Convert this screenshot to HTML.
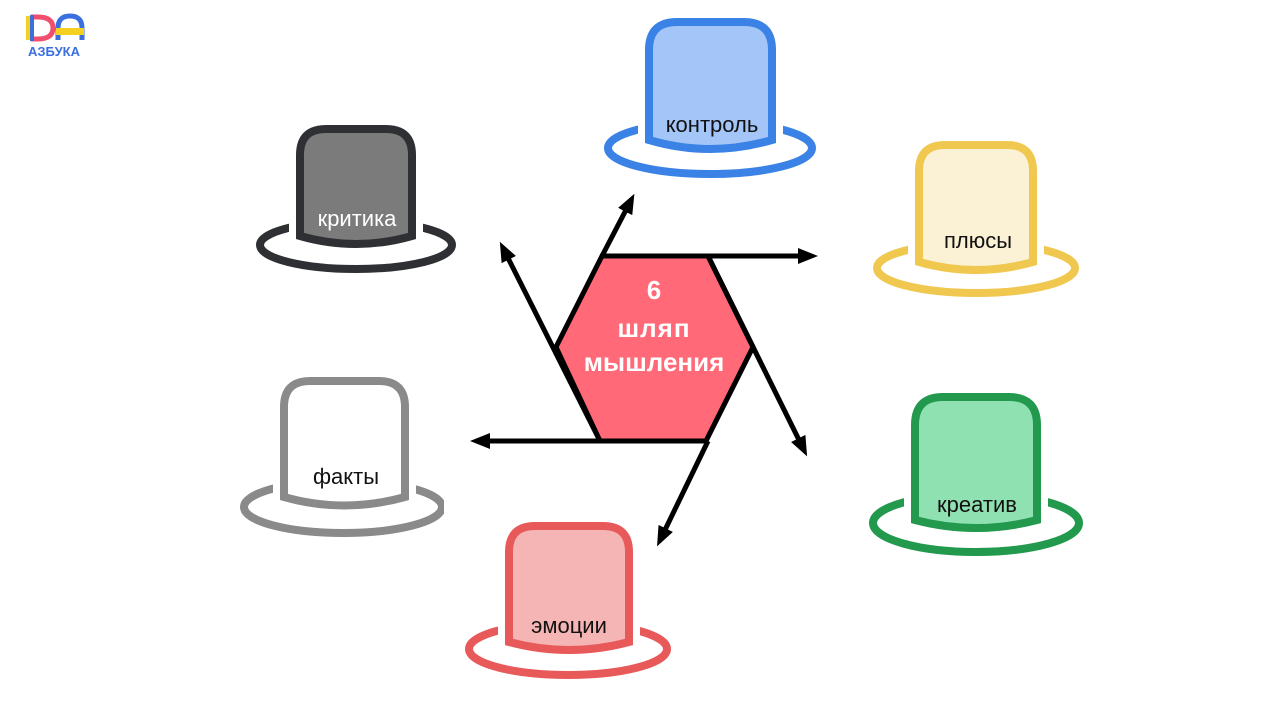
<!DOCTYPE html>
<html><head><meta charset="utf-8"><style>
html,body{margin:0;padding:0;background:#fff;}
svg{display:block;}
text{font-family:"Liberation Sans","DejaVu Sans",sans-serif;}
</style></head><body>
<svg width="1280" height="720" viewBox="0 0 1280 720" xmlns="http://www.w3.org/2000/svg">
<defs>
<marker id="ah" markerWidth="20" markerHeight="16" refX="4" refY="8" orient="auto" markerUnits="userSpaceOnUse" viewBox="0 0 20 16">
<path d="M0,0 L20,8 L0,16 Z" fill="#000"/>
</marker>
</defs>
<rect width="1280" height="720" fill="#fff"/>

<!-- logo -->
<g>
<rect x="26" y="16" width="5" height="24" fill="#f5d020"/>
<path d="M31,17 L38,17 Q53,17 53,28 Q53,39 38,39 L31,39" fill="none" stroke="#f0506e" stroke-width="5"/>
<rect x="30" y="15" width="4" height="26" fill="#3a6fe0"/>
<path d="M58,40 L58,28 Q58,16 70,16 Q82,16 82,28 L82,40" fill="none" stroke="#3a6fe0" stroke-width="5"/>
<rect x="56" y="28" width="28" height="7" fill="#f5d020"/>
<text x="54" y="56" font-size="13" font-weight="bold" fill="#3a6fe0" text-anchor="middle">АЗБУКА</text>
</g>

<!-- blue -->
<g>
<ellipse cx="710" cy="148" rx="102" ry="26" fill="none" stroke="#3a82e6" stroke-width="8"/>
<path d="M649,140 L649,50 Q649,22 677,22 L744,22 Q772,22 772,50 L772,140 Q710,158 649,140 Z" fill="#fff" stroke="#fff" stroke-width="22"/>
<path d="M649,140 L649,50 Q649,22 677,22 L744,22 Q772,22 772,50 L772,140 Q710,158 649,140 Z" fill="#a3c5f7" stroke="#3a82e6" stroke-width="8"/>
<text x="712" y="132" font-size="22" fill="#111" text-anchor="middle">контроль</text>
</g>
<!-- black -->
<g>
<ellipse cx="356" cy="245" rx="96" ry="24" fill="none" stroke="#2e3033" stroke-width="8"/>
<path d="M300,236 L300,155 Q300,129 326,129 L386,129 Q412,129 412,155 L412,236 Q356,252 300,236 Z" fill="#fff" stroke="#fff" stroke-width="22"/>
<path d="M300,236 L300,155 Q300,129 326,129 L386,129 Q412,129 412,155 L412,236 Q356,252 300,236 Z" fill="#7b7b7b" stroke="#2e3033" stroke-width="8"/>
<text x="357" y="226" font-size="22" fill="#fff" text-anchor="middle">критика</text>
</g>
<!-- yellow -->
<g>
<ellipse cx="976" cy="268" rx="99" ry="25" fill="none" stroke="#f0c850" stroke-width="8"/>
<path d="M919,262 L919,171 Q919,145 945,145 L1007,145 Q1033,145 1033,171 L1033,262 Q976,278 919,262 Z" fill="#fff" stroke="#fff" stroke-width="22"/>
<path d="M919,262 L919,171 Q919,145 945,145 L1007,145 Q1033,145 1033,171 L1033,262 Q976,278 919,262 Z" fill="#fbf1d4" stroke="#f0c850" stroke-width="8"/>
<text x="978" y="248" font-size="22" fill="#111" text-anchor="middle">плюсы</text>
</g>
<!-- grey -->
<g>
<ellipse cx="343" cy="507" rx="99" ry="26" fill="none" stroke="#8a8a8a" stroke-width="8"/>
<rect x="444" y="470" width="20" height="60" fill="#fff"/>
<path d="M284,497 L284,407 Q284,381 310,381 L379,381 Q405,381 405,407 L405,497 Q344,514 284,497 Z" fill="#fff" stroke="#fff" stroke-width="22"/>
<path d="M284,497 L284,407 Q284,381 310,381 L379,381 Q405,381 405,407 L405,497 Q344,514 284,497 Z" fill="#fff" stroke="#8a8a8a" stroke-width="8"/>
<text x="346" y="484" font-size="22" fill="#111" text-anchor="middle">факты</text>
</g>
<!-- green -->
<g>
<ellipse cx="976" cy="523" rx="103" ry="29" fill="none" stroke="#22994d" stroke-width="8"/>
<path d="M915,520 L915,425 Q915,397 943,397 L1009,397 Q1037,397 1037,425 L1037,520 Q976,536 915,520 Z" fill="#fff" stroke="#fff" stroke-width="22"/>
<path d="M915,520 L915,425 Q915,397 943,397 L1009,397 Q1037,397 1037,425 L1037,520 Q976,536 915,520 Z" fill="#90e1b1" stroke="#22994d" stroke-width="8"/>
<text x="977" y="512" font-size="22" fill="#111" text-anchor="middle">креатив</text>
</g>
<!-- red -->
<g>
<ellipse cx="568" cy="649" rx="99" ry="26" fill="none" stroke="#e85a5a" stroke-width="8"/>
<path d="M509,642 L509,552 Q509,526 535,526 L603,526 Q629,526 629,552 L629,642 Q569,658 509,642 Z" fill="#fff" stroke="#fff" stroke-width="22"/>
<path d="M509,642 L509,552 Q509,526 535,526 L603,526 Q629,526 629,552 L629,642 Q569,658 509,642 Z" fill="#f5b5b5" stroke="#e85a5a" stroke-width="8"/>
<text x="569" y="633" font-size="22" fill="#111" text-anchor="middle">эмоции</text>
</g>

<!-- hexagon -->
<polygon points="602,256 708,256 753,347 706,441 600,441 556,347" fill="#ff6978" stroke="#000" stroke-width="5"/>
<text x="654" y="299" font-size="26" font-weight="bold" fill="#fff" text-anchor="middle">6</text>
<text x="654" y="337" font-size="26" font-weight="bold" fill="#fff" text-anchor="middle" letter-spacing="1">шляп</text>
<text x="654" y="371" font-size="26" font-weight="bold" fill="#fff" text-anchor="middle">мышления</text>

<!-- arrows -->
<g stroke="#000" stroke-width="5" fill="none">
<line x1="602" y1="256" x2="802" y2="256" marker-end="url(#ah)"/>
<line x1="708" y1="256" x2="800" y2="442" marker-end="url(#ah)"/>
<line x1="706" y1="441" x2="486" y2="441" marker-end="url(#ah)"/>
<line x1="708" y1="441" x2="664" y2="532" marker-end="url(#ah)"/>
<line x1="600" y1="441" x2="507" y2="256" marker-end="url(#ah)"/>
<line x1="602" y1="256" x2="627" y2="208" marker-end="url(#ah)"/>
</g>
</svg>
</body></html>
